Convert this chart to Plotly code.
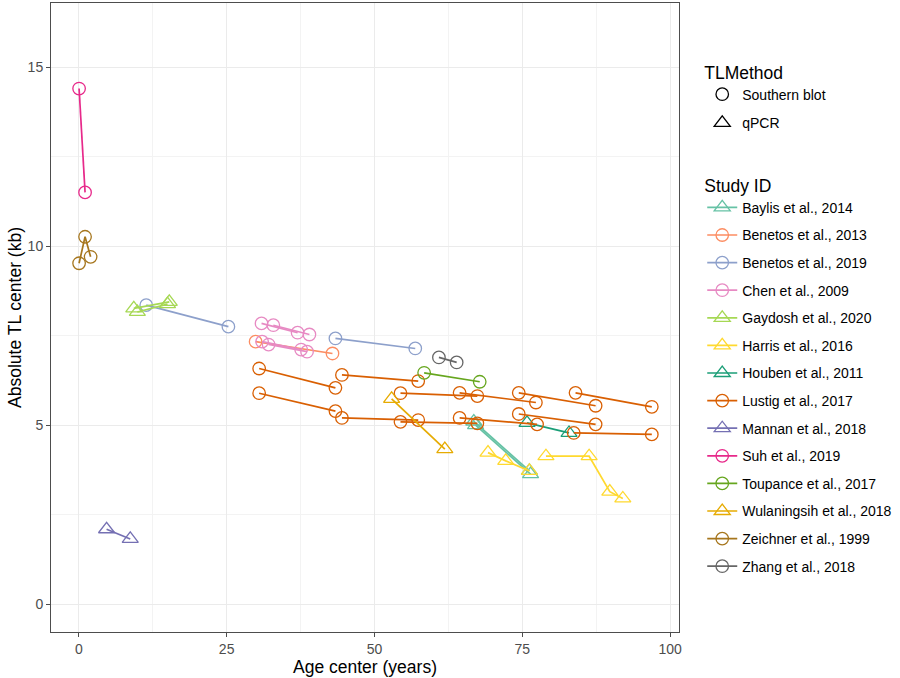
import plotly.graph_objects as go

# ---- data ----
studies = ["Baylis et al., 2014", "Benetos et al., 2013", "Benetos et al., 2019",
           "Chen et al., 2009", "Gaydosh et al., 2020", "Harris et al., 2016",
           "Houben et al., 2011", "Lustig et al., 2017", "Mannan et al., 2018",
           "Suh et al., 2019", "Toupance et al., 2017", "Wulaningsih et al., 2018",
           "Zeichner et al., 1999", "Zhang et al., 2018"]
study_method = ["qPCR", "Southern blot", "Southern blot", "Southern blot", "qPCR", "qPCR",
                "qPCR", "Southern blot", "qPCR", "Southern blot", "Southern blot", "qPCR",
                "Southern blot", "Southern blot"]
methods = ["Southern blot", "qPCR"]

# one entry per measurement: study, cohort/segment id, age centre, TL centre
pt_study = (["Baylis et al., 2014"] * 4 + ["Benetos et al., 2013"] * 2 +
            ["Benetos et al., 2019"] * 4 + ["Chen et al., 2009"] * 8 +
            ["Gaydosh et al., 2020"] * 4 + ["Harris et al., 2016"] * 7 +
            ["Houben et al., 2011"] * 2 + ["Lustig et al., 2017"] * 24 +
            ["Mannan et al., 2018"] * 2 + ["Suh et al., 2019"] * 2 +
            ["Toupance et al., 2017"] * 2 + ["Wulaningsih et al., 2018"] * 2 +
            ["Zeichner et al., 1999"] * 3 + ["Zhang et al., 2018"] * 2)
pt_segment = ([1, 1, 2, 2] + [1, 1] + [1, 1, 2, 2] + [1, 1, 2, 2, 3, 3, 4, 4] +
              [1, 1, 2, 2] + [1, 1, 1, 2, 2, 2, 2] + [1, 1] +
              [1, 1, 2, 2, 3, 3, 4, 4, 5, 5, 6, 6, 7, 7, 8, 8, 9, 9, 10, 10, 11, 11, 12, 12] +
              [1, 1] + [1, 1] + [1, 1] + [1, 1] + [1, 1, 1] + [1, 1])
pt_age = ([66.8, 76.2, 67.1, 76.4] + [29.9, 42.9] + [11.4, 25.3, 43.4, 56.9] +
          [30.9, 37.0, 32.9, 39.0, 31.0, 37.6, 32.1, 38.6] +
          [9.3, 15.3, 9.9, 15.0] + [69.2, 72.2, 76.2, 79.0, 86.3, 89.8, 92.0] + [75.8, 82.9] +
          [30.5, 43.4, 44.5, 57.4, 54.4, 67.4, 64.4, 77.3, 74.4, 87.4, 84.0, 96.9,
           30.5, 43.4, 44.5, 57.4, 54.4, 67.4, 64.4, 77.5, 74.4, 87.4, 83.7, 96.9] +
          [4.7, 8.7] + [0.05, 1.06] + [58.4, 67.8] + [52.9, 61.9] + [0.05, 1.06, 2.0] +
          [60.9, 63.9])
pt_tl = ([5.10, 3.72, 5.00, 3.63] + [7.33, 7.00] + [8.35, 7.75, 7.42, 7.14] +
         [7.84, 7.58, 7.79, 7.53, 7.33, 7.11, 7.25, 7.05] +
         [8.26, 8.44, 8.16, 8.38] + [4.23, 4.00, 3.72, 4.13, 4.13, 3.14, 2.95] + [5.06, 4.78] +
         [6.58, 6.04, 6.40, 6.23, 5.89, 5.81, 5.90, 5.63, 5.90, 5.54, 5.90, 5.51,
          5.89, 5.39, 5.20, 5.14, 5.09, 5.05, 5.20, 5.02, 5.31, 5.02, 4.78, 4.74] +
         [2.09, 1.82] + [14.40, 11.50] + [6.46, 6.21] + [5.73, 4.33] + [9.52, 10.26, 9.70] +
         [6.89, 6.75])

x_ticks = [0, 25, 50, 75, 100]
y_ticks = [0, 5, 10, 15]

# ---- styles ----
colors = ["#66C2A5", "#FC8D62", "#8DA0CB", "#E78AC3", "#A6D854", "#FFD92F",
          "#1B9E77", "#D95F02", "#7570B3", "#E7298A", "#66A61E", "#E6AB02",
          "#A6761D", "#666666"]
symbols = {"Southern blot": "circle-open", "qPCR": "triangle-up-open"}
sizes = {"Southern blot": 12.5, "qPCR": 14}
FONT = "Liberation Sans, Arial, sans-serif"

fig = go.Figure()

# method legend (shape only)
for m in methods:
    fig.add_trace(go.Scatter(
        x=[None], y=[None], mode="markers", name=m, legend="legend",
        legendgroup="m_" + m,
        marker=dict(symbol=symbols[m], size=sizes[m], color="black",
                    line=dict(width=1.3, color="black")),
        hoverinfo="skip"))

for s, col, m in zip(studies, colors, study_method):
    idx = [i for i, st in enumerate(pt_study) if st == s]
    segs = []
    for i in idx:
        if pt_segment[i] not in segs:
            segs.append(pt_segment[i])
    for k, sg in enumerate(segs):
        ii = [i for i in idx if pt_segment[i] == sg]
        fig.add_trace(go.Scatter(
            x=[pt_age[i] for i in ii], y=[pt_tl[i] for i in ii],
            mode="lines+markers", name=s, legend="legend2",
            legendgroup=s, showlegend=(k == 0),
            line=dict(color=col, width=1.7),
            marker=dict(symbol=symbols[m], size=sizes[m], color=col,
                        line=dict(width=1.3, color=col))))

axis_common = dict(
    showline=True, linecolor="#4D4D4D", linewidth=1, mirror=True,
    showgrid=True, gridcolor="#EBEBEB", gridwidth=1, automargin=False,
    zeroline=False, ticks="outside", ticklen=4, tickcolor="#4D4D4D",
    tickfont=dict(family=FONT, size=14, color="#4D4D4D"),
)

fig.update_xaxes(range=[-4.7, 101.5], tickvals=x_ticks, ticktext=[str(v) for v in x_ticks],
                 minor=dict(dtick=12.5, tick0=0, showgrid=True, gridcolor="#F3F3F3",
                            gridwidth=1, ticks=""),
                 title=dict(text="Age center (years)", font=dict(family=FONT, size=17.5, color="black"),
                            standoff=1),
                 **axis_common)
fig.update_yaxes(range=[-0.78, 16.79], tickvals=y_ticks, ticktext=[str(v) for v in y_ticks],
                 minor=dict(dtick=2.5, tick0=0, showgrid=True, gridcolor="#F3F3F3",
                            gridwidth=1, ticks=""),
                 title=dict(text="Absolute TL center (kb)", font=dict(family=FONT, size=17.5, color="black"),
                            standoff=1),
                 **axis_common)

fig.update_layout(
    width=900, height=678,
    margin=dict(l=51, r=218, t=3, b=46),
    plot_bgcolor="white", paper_bgcolor="white",
    font=dict(family=FONT, size=14, color="black"),
    legend=dict(title=dict(text="TLMethod", font=dict(size=17.5)),
                x=1.037, xanchor="left", y=0.916, yanchor="top",
                tracegroupgap=7.5, itemwidth=30, font=dict(size=14),
                bgcolor="rgba(0,0,0,0)"),
    legend2=dict(title=dict(text="Study ID", font=dict(size=17.5)),
                 x=1.037, xanchor="left", y=0.736, yanchor="top",
                 tracegroupgap=6.4, itemwidth=30, font=dict(size=14),
                 bgcolor="rgba(0,0,0,0)"),
    showlegend=True,
)

fig.write_html("out.html", config={"displayModeBar": False},
               post_script="document.body.style.margin='0px';")
